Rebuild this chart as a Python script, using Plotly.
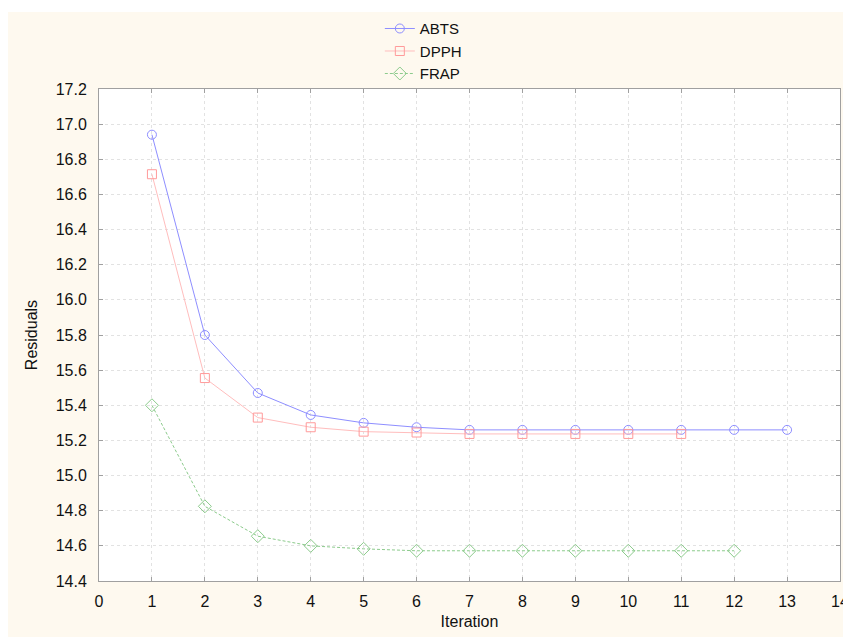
import plotly.graph_objects as go

iterations_abts = [1, 2, 3, 4, 5, 6, 7, 8, 9, 10, 11, 12, 13]
abts = [16.94, 15.80, 15.47, 15.345, 15.30, 15.275, 15.26, 15.26, 15.26, 15.26, 15.26, 15.26, 15.26]

iterations_dpph = [1, 2, 3, 4, 5, 6, 7, 8, 9, 10, 11]
dpph = [16.715, 15.555, 15.33, 15.275, 15.25, 15.245, 15.237, 15.237, 15.237, 15.237, 15.237]

iterations_frap = [1, 2, 3, 4, 5, 6, 7, 8, 9, 10, 11, 12]
frap = [15.40, 14.825, 14.655, 14.60, 14.583, 14.572, 14.572, 14.572, 14.572, 14.572, 14.572, 14.572]

x_ticks = list(range(0, 15))
y_ticks = [14.4, 14.6, 14.8, 15.0, 15.2, 15.4, 15.6, 15.8, 16.0, 16.2, 16.4, 16.6, 16.8, 17.0, 17.2]

FONT = "Liberation Sans, Arial, sans-serif"
CREAM = "#FEF9EF"

fig = go.Figure()
fig.add_trace(go.Scatter(
    x=iterations_abts, y=abts, name="ABTS", mode="lines+markers",
    line=dict(color="#8E8EFF", width=1),
    marker=dict(symbol="circle-open", size=9, color="#8E8EFF", line=dict(width=1)),
))
fig.add_trace(go.Scatter(
    x=iterations_dpph, y=dpph, name="DPPH", mode="lines+markers",
    line=dict(color="#FFBDBD", width=1),
    marker=dict(symbol="square-open", size=9, color="#FF9A9A", line=dict(width=1)),
))
fig.add_trace(go.Scatter(
    x=iterations_frap, y=frap, name="FRAP", mode="lines+markers",
    line=dict(color="#8CCB8C", width=1, dash="3px,2px"),
    marker=dict(symbol="diamond-open", size=10, color="#8CCB8C", line=dict(width=1)),
))

axis_common = dict(
    showline=True, linecolor="#A0A0A0", linewidth=1, mirror="ticks",
    ticks="inside", ticklen=4, tickcolor="#A0A0A0",
    showgrid=True, gridcolor="#E2E2E2", griddash="3px,3px", gridwidth=1,
    zeroline=False,
    tickfont=dict(family=FONT, size=16, color="#111111"),
    ticklabeloverflow="allow",
    automargin=False,
)

fig.update_xaxes(
    range=[0, 14], tickvals=x_ticks, ticktext=[str(v) for v in x_ticks],
    title=dict(text="Iteration", font=dict(family=FONT, size=16, color="#111111"), standoff=6),
    ticklabelstandoff=6,
    **axis_common,
)
fig.update_yaxes(
    range=[14.4, 17.2], tickvals=y_ticks, ticktext=[f"{v:.1f}" for v in y_ticks],
    title=dict(text="Residuals", font=dict(family=FONT, size=16, color="#111111"), standoff=14),
    ticklabelstandoff=8,
    **axis_common,
)

fig.update_layout(
    width=843, height=637,
    margin=dict(l=99, r=3, t=89, b=56),
    paper_bgcolor=CREAM,
    plot_bgcolor="white",
    showlegend=True,
    legend=dict(
        x=0.379, y=1.156, xanchor="left", yanchor="top",
        bgcolor="rgba(0,0,0,0)", font=dict(family=FONT, size=15, color="#111111"),
        tracegroupgap=0, itemwidth=30,
    ),
    shapes=[
        dict(type="rect", xref="paper", yref="paper", x0=-0.2, x1=1.1,
             y0=(581 - 12) / 492, y1=1.3, fillcolor="white", line=dict(width=0), layer="below"),
        dict(type="rect", xref="paper", yref="paper", x0=-0.2, x1=(8 - 99) / 741,
             y0=-0.2, y1=1.3, fillcolor="white", line=dict(width=0), layer="below"),
    ],
)

fig.write_html("out.html")
